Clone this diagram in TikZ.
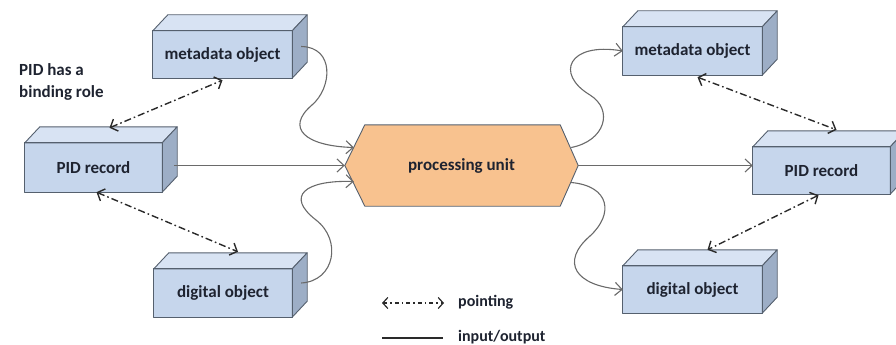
\documentclass[tikz,border=0pt]{standalone}
\usepackage{fontspec}
\setmainfont{Carlito}
\usetikzlibrary{arrows.meta,calc,backgrounds}
\definecolor{frontc}{HTML}{C6D6EC}
\definecolor{topc}{HTML}{D8E3F3}
\definecolor{sidec}{HTML}{9DAEC6}
\definecolor{edgec}{HTML}{55606E}
\definecolor{hexc}{HTML}{F8C28F}
\definecolor{txtc}{HTML}{1E2330}
\definecolor{linec}{HTML}{6A6A6A}
\definecolor{dashc}{HTML}{2A2A2A}
\tikzset{
  boxface/.style={draw=edgec, line width=0.9pt, line join=round},
  cube/.style={inner sep=0pt, text=txtc, font=\fontsize{17}{20}\selectfont\bfseries},
  io/.style={draw=linec, line width=1.1pt, -{Straight Barb[length=7pt,width=13pt,line width=1.1pt]}},
  ptr/.style={draw=dashc, line width=1.4pt, dash pattern=on 7pt off 3pt on 1.6pt off 3pt,
    {Straight Barb[length=6pt,width=13pt,line width=1.4pt]}-{Straight Barb[length=6pt,width=13pt,line width=1.4pt]}},
  lbl/.style={text=txtc, font=\fontsize{17}{22}\selectfont\bfseries, inner sep=0pt}
}
% \cubebox{name}{x1}{y1}{x2}{y2}{text}
\newcommand{\cubebox}[6]{%
  \fill[frontc] (#2,#3) rectangle (#4,#5);
  \node[cube, minimum width={(#4-#2)*1pt}, minimum height={(#5-#3)*1pt}] (#1) at ({(#2+#4)/2},{(#3+#5)/2}) {#6};
  \filldraw[boxface, fill=topc] (#1.north west) -- ++(15,-16) -- ($(#1.north east)+(15,-16)$) -- (#1.north east) -- cycle;
  \filldraw[boxface, fill=sidec] (#1.north east) -- ++(15,-16) -- ($(#1.south east)+(15,-16)$) -- (#1.south east) -- cycle;
  \draw[boxface] (#1.north west) rectangle (#1.south east);
}
\begin{document}
\begin{tikzpicture}[x=1pt,y=-1pt]
\useasboundingbox (0,0) rectangle (896,345);

% left boxes
\cubebox{lm}{153}{31}{292}{78}{metadata object}
\cubebox{lp}{25}{143}{162}{192}{PID record}
\cubebox{ld}{154}{269}{292}{317}{digital object}
% right boxes
\cubebox{rm}{623}{27}{762}{75}{metadata object}
\cubebox{rp}{753}{147}{890}{194}{PID record}
\cubebox{rd}{623}{266}{762}{313}{digital object}

% processing unit
\node[lbl, minimum width=233pt, minimum height=81pt] (pu) at (461.5,165.5) {processing unit};
\begin{scope}[on background layer]
\filldraw[draw=edgec, line width=0.9pt, fill=hexc, line join=round]
  ($(pu.north west)+(20,0)$) -- ($(pu.north east)+(-18,0)$) -- (pu.east)
  -- ($(pu.south east)+(-18,0)$) -- ($(pu.south west)+(20,0)$) -- (pu.west) -- cycle;
\end{scope}

% coordinates on the boxes' side faces and hexagon edges
\coordinate (lmS) at ($(lm.east)+(9,-8)$);
\coordinate (ldS) at ($(ld.east)+(9,-10)$);
\coordinate (puUL) at ($(pu.west)+(9,-18)$);
\coordinate (puLL) at ($(pu.west)+(9,16)$);
\coordinate (puUR) at ($(pu.east)+(-7,-18)$);
\coordinate (puLR) at ($(pu.east)+(-7,17)$);
\coordinate (lpS) at ($(lp.east)+(12,-2)$);

% input / output connectors
\draw[io] (lmS) .. controls (335,47) and (332,88) .. (312,105)
  .. controls (285,128) and (305,146) .. (puUL);
\draw[io] (lpS) -- (pu.west);
\draw[io] (ldS) .. controls (335,281) and (342,240) .. (316,220)
  .. controls (285,196) and (305,180) .. (puLL);
\draw[io] (puUR) .. controls (605,141) and (614,110) .. (590,95)
  .. controls (555,74) and (568,42) .. (rm.west);
\draw[io] (pu.east) -- (pu.east -| rp.west);
\draw[io] (puLR) .. controls (610,186) and (614,214) .. (590,236)
  .. controls (560,262) and (575,286) .. (rd.west);

% pointing connectors
\draw[ptr] ($(lp.north)+(16,-15)$) -- ($(lm.south)+(0,2)$);
\draw[ptr] ($(lp.south)+(3,0)$) -- ($(ld.north)+(15,-17)$);
\draw[ptr] ($(rm.south)+(5,2)$) -- ($(rp.north)+(15,-17)$);
\draw[ptr] ($(rp.south)+(-3,1)$) -- ($(rd.north)+(15,-16)$);

% label
\node[lbl, align=left, anchor=north west] (pidlbl) at (19,63) {PID has a\\binding role};

% legend
\coordinate (la1) at (382,303);
\coordinate (la2) at (444,303);
\coordinate (lb1) at (382,338);
\coordinate (lb2) at (443,338);
\draw[draw=dashc, line width=1.2pt, dash pattern=on 4pt off 3pt on 1.5pt off 3pt,
  {Straight Barb[length=5pt,width=11pt,line width=1.2pt]}-{Straight Barb[length=5pt,width=11pt,line width=1.2pt]}] (la1) -- (la2);
\draw[draw=dashc, line width=1.2pt] (lb1) -- (lb2);
\node[lbl, font=\fontsize{16}{20}\selectfont\bfseries, anchor=west] (lg1) at (458,302) {pointing};
\node[lbl, font=\fontsize{16}{20}\selectfont\bfseries, anchor=west] (lg2) at (458,337) {input/output};
\end{tikzpicture}
\end{document}
